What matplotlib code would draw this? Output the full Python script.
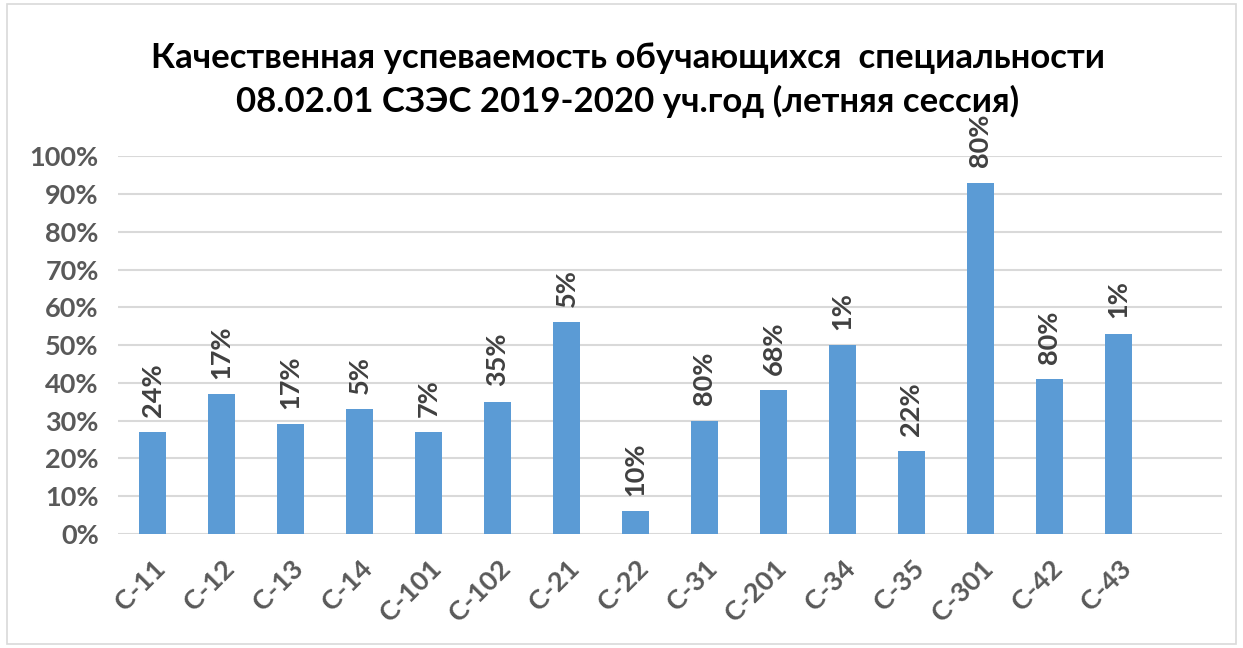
import matplotlib.pyplot as plt
from matplotlib.patches import Rectangle

groups = ["С-11", "С-12", "С-13", "С-14", "С-101", "С-102", "С-21", "С-22",
          "С-31", "С-201", "С-34", "С-35", "С-301", "С-42", "С-43"]
values = [27, 37, 29, 33, 27, 35, 56, 6, 30, 38, 50, 22, 93, 41, 53]
labels = ["24%", "17%", "17%", "5%", "7%", "35%", "5%", "10%",
          "80%", "68%", "1%", "22%", "80%", "80%", "1%"]
yticks = [0, 10, 20, 30, 40, 50, 60, 70, 80, 90, 100]

plt.rcParams['font.family'] = ['Lato', 'DejaVu Sans']

fig = plt.figure(figsize=(12.43, 6.48), dpi=100)
fig.patches.append(Rectangle((0.006, 0.006), 0.988, 0.988, transform=fig.transFigure,
                             fill=False, edgecolor='#d9d9d9', linewidth=1.2))
ax = fig.add_axes([0.095, 0.176, 0.888, 0.583])

x = list(range(len(groups)))
ax.bar(x, values, width=0.4, color='#5b9bd5', zorder=3)
for xi, v, lab in zip(x, values, labels):
    ax.annotate(lab, (xi, v), xytext=(0, 11), textcoords='offset points',
                rotation=90, ha='center', va='bottom', fontsize=19.5,
                fontweight='bold', color='#404040', zorder=4)

ax.set_xlim(-0.5, len(groups) + 0.5)
ax.set_ylim(0, 100)
ax.set_yticks(yticks)
ax.set_yticklabels([f"{t}%" for t in yticks], fontsize=19.5, fontweight='bold', color='#595959')
ax.set_xticks(x)
ax.set_xticklabels(groups, rotation=45, ha='right', rotation_mode='anchor',
                   fontsize=19.5, fontweight='bold', color='#595959')
ax.tick_params(axis='both', length=0)
ax.tick_params(axis='x', pad=16)
ax.tick_params(axis='y', pad=14)
ax.grid(axis='y', color='#d9d9d9', linewidth=1.5, zorder=0)
for s in ax.spines.values():
    s.set_visible(False)

fig.text(0.505, 0.91, "Качественная успеваемость обучающихся  специальности",
         ha='center', va='center', fontsize=25, fontweight='bold', color='black')
fig.text(0.505, 0.843, "08.02.01 СЗЭС 2019-2020 уч.год (летняя сессия)",
         ha='center', va='center', fontsize=25, fontweight='bold', color='black')

fig.savefig("out.png", dpi=100)
